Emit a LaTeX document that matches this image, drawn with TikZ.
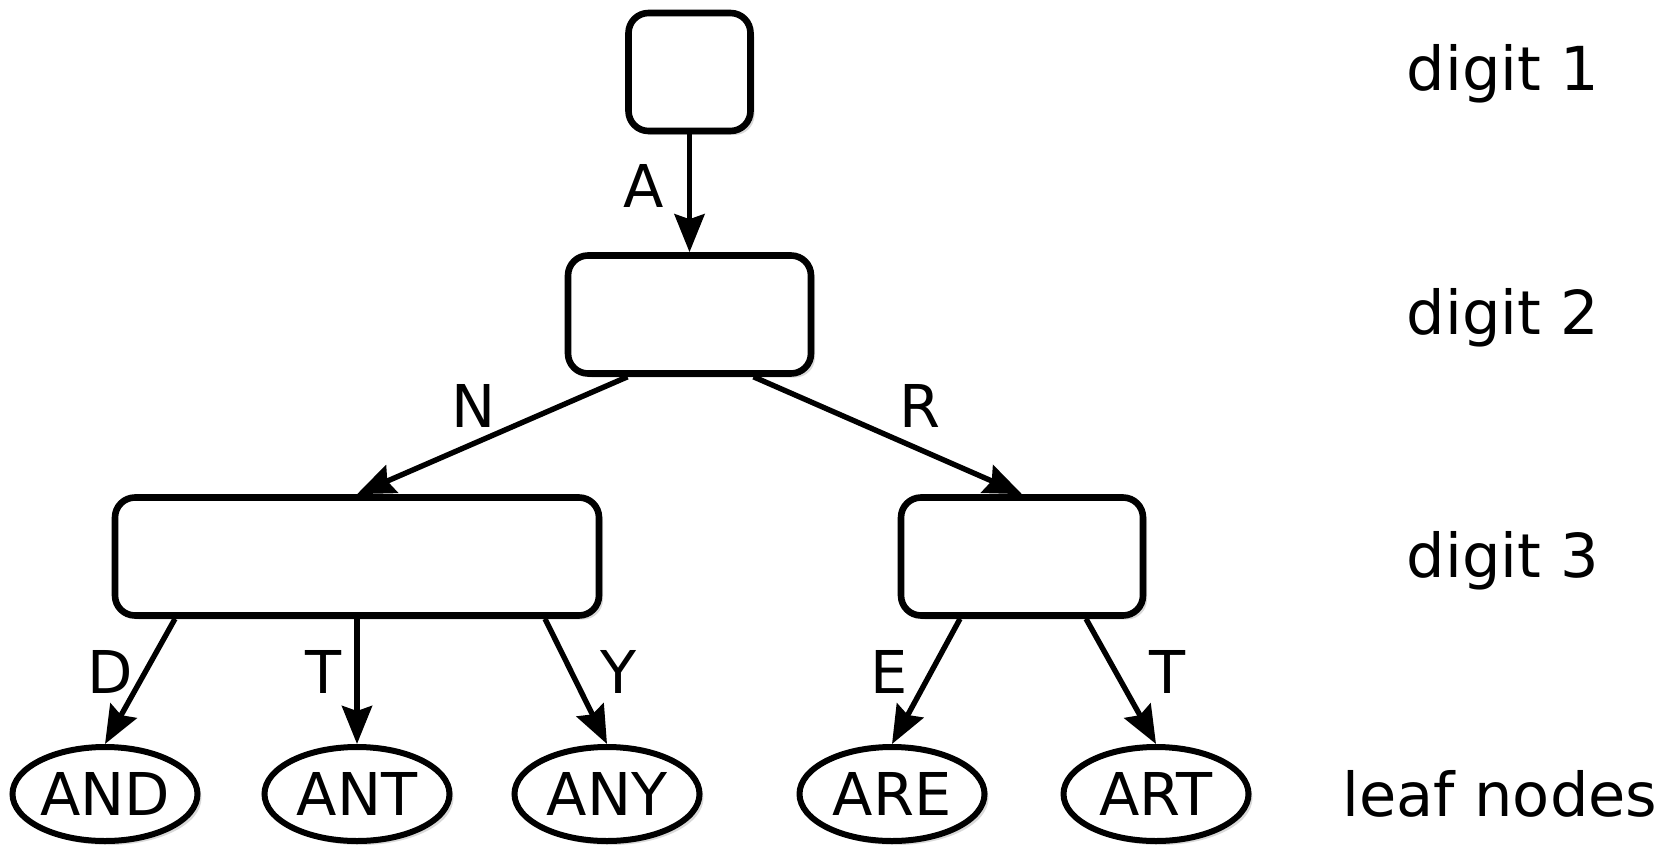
\documentclass[tikz,border=0pt]{standalone}
\usepackage{fontspec}
\setmainfont{DejaVu Sans}
\usetikzlibrary{arrows.meta,shadows,shapes.geometric,calc}
\begin{document}
\begin{tikzpicture}[x=0.5pt,y=-0.5pt,
  shad/.style={drop shadow={shadow xshift=2pt,shadow yshift=-2pt,opacity=0.3}},
  box/.style={draw, line width=3.3pt, rounded corners=10pt, fill=white, inner sep=0pt, shad},
  leaf/.style={draw, ellipse, line width=3pt, fill=white, inner sep=0pt, minimum width=92.5pt, minimum height=47pt, font=\fontsize{29.5}{30}\selectfont, shad},
  conn/.style={-{Stealth[length=19pt,width=15pt,inset=2.5pt]}, line width=2.7pt},
  lbl/.style={font=\fontsize{29.5}{30}\selectfont, anchor=base, inner sep=0pt},
  side/.style={font=\fontsize{30.3}{31}\selectfont, anchor=base, inner sep=0pt},
]
\useasboundingbox (0,0) rectangle (1673,845);
\node[box, minimum width=61pt, minimum height=59pt] (top) at (689.5,72) {};
\node[box, minimum width=121.5pt, minimum height=59pt] (b2) at (689.5,314.5) {};
\node[box, minimum width=242pt, minimum height=59pt] (b3l) at (357,556.5) {};
\node[box, minimum width=121pt, minimum height=59pt] (b3r) at (1022,556.5) {};
\node[leaf] (and) at (105,794) {AND};
\node[leaf] (ant) at (357,794) {ANT};
\node[leaf] (any) at (607,794) {ANY};
\node[leaf] (are) at (892,794) {ARE};
\node[leaf] (art) at (1156,794) {ART};
\draw[conn] (top.south) -- (b2.north);
\draw[conn] ([xshift=-31pt]b2.south) -- (b3l.north);
\draw[conn] ([xshift=32pt]b2.south) -- (b3r.north);
\draw[conn] ([xshift=-91pt]b3l.south) -- (and.north);
\draw[conn] (b3l.south -| ant.north) -- (ant.north);
\draw[conn] ([xshift=94pt]b3l.south) -- (any.north);
\draw[conn] ([xshift=-31pt]b3r.south) -- (are.north);
\draw[conn] ([xshift=32pt]b3r.south) -- (art.north);
\node[lbl] (lA) at (644,207) {A};
\node[lbl] (lN) at (474,427) {N};
\node[lbl] (lR) at (920,427) {R};
\node[lbl] (lD) at (110,693) {D};
\node[lbl] (lT1) at (324,693) {T};
\node[lbl] (lY) at (619,693) {Y};
\node[lbl] (lE) at (889,693) {E};
\node[lbl] (lT2) at (1167,693) {T};
\node[side] (d1) at (1503,91) {digit 1};
\node[side] (d2) at (1503,334) {digit 2};
\node[side] (d3) at (1503,577) {digit 3};
\node[side] (ln) at (1500,816) {leaf nodes};
\end{tikzpicture}
\end{document}
